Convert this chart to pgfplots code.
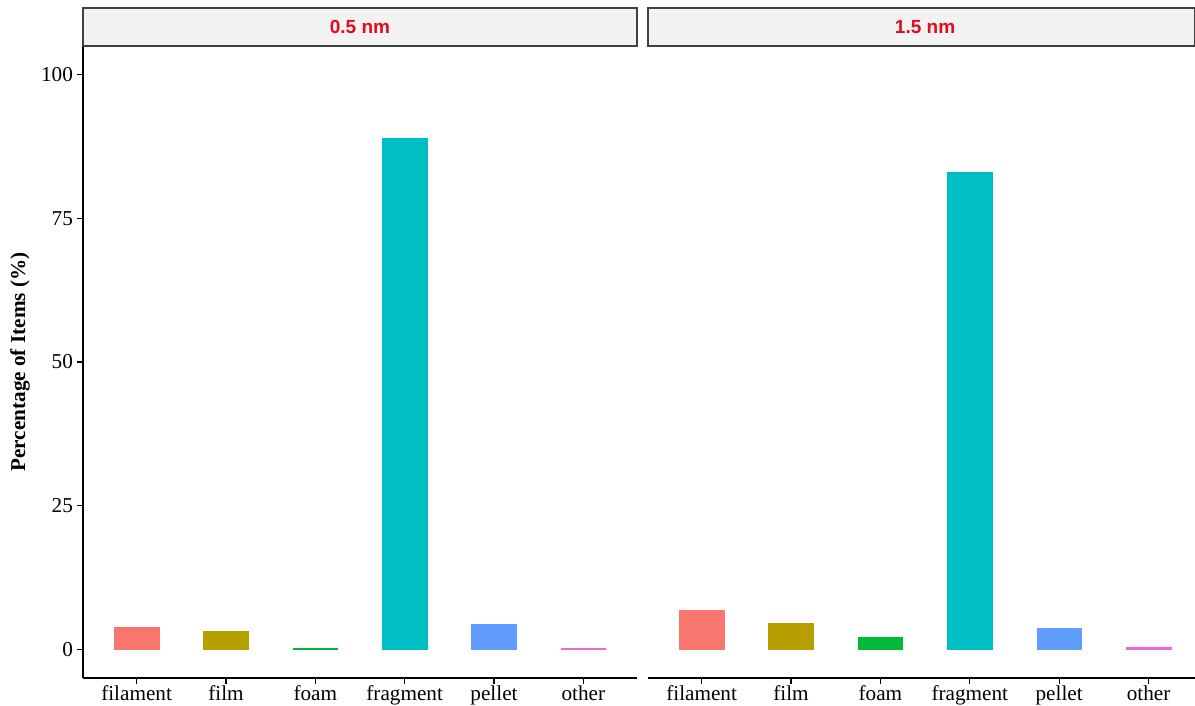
\documentclass[border=0pt]{standalone}
\usepackage{fontspec}
\setmainfont{Liberation Serif}
\newfontfamily\stripfont{Liberation Sans}
\usepackage{pgfplots}
\pgfplotsset{compat=1.18}
\definecolor{cA}{HTML}{F8766D}
\definecolor{cB}{HTML}{B79F00}
\definecolor{cC}{HTML}{00BA38}
\definecolor{cD}{HTML}{00BFC4}
\definecolor{cE}{HTML}{619CFF}
\definecolor{cF}{HTML}{F564E3}
\definecolor{stripgray}{HTML}{F2F2F2}
\definecolor{stripred}{RGB}{228,10,30}
\pgfplotsset{
  panel/.style={
    scale only axis, anchor=south west, height=316pt,
    ymin=-5, ymax=105, xmin=0.4,
    xtick={1,2,3,4,5,6},
    xticklabels={filament,film,foam,fragment,pellet,other},
    axis x line*=bottom,
    tick align=outside, major tick length=3pt,
    tick style={black, line width=0.6pt},
    axis line style={black, line width=0.7pt},
    ticklabel style={font=\fontsize{10.6}{12}\selectfont},
    xticklabel style={yshift=2.8pt},
    yticklabel style={xshift=1.5pt},
    /pgf/number format/assume math mode=true,
    clip=false,
  },
  mybar/.style={ybar, bar width=0.5, bar shift=0pt, fill=#1, draw=#1, line width=0.3pt},
}
\begin{document}
\begin{tikzpicture}
\begin{axis}[panel, at={(41.5pt,14pt)}, width=277pt, xmax=6.6,
  axis y line*=left, ytick={0,25,50,75,100},
  ylabel={\textbf{Percentage of Items (\%)}},
  ylabel style={at={(axis description cs:-0.1137,0.5)}, anchor=center, font=\fontsize{10.6}{12}\selectfont}]
\addplot[mybar=cA] coordinates {(1,3.8)};
\addplot[mybar=cB] coordinates {(2,3.1)};
\addplot[mybar=cC] coordinates {(3,0.1)};
\addplot[mybar=cD] coordinates {(4,88.9)};
\addplot[mybar=cE] coordinates {(5,4.4)};
\addplot[mybar=cF] coordinates {(6,0.1)};
\draw[fill=stripgray, draw=black!75, line width=0.6pt] (rel axis cs:0,1) rectangle ([yshift=19pt]rel axis cs:1,1);
\node[font=\stripfont\bfseries\fontsize{9.5}{11}\selectfont, text=stripred] at ([yshift=9.5pt]axis cs:3.5,105) {0.5 nm};
\end{axis}
\begin{axis}[panel, at={(324pt,14pt)}, width=273.5pt, xmax=6.52,
  axis y line=none, ytick=\empty]
\addplot[mybar=cA] coordinates {(1,6.8)};
\addplot[mybar=cB] coordinates {(2,4.5)};
\addplot[mybar=cC] coordinates {(3,2.0)};
\addplot[mybar=cD] coordinates {(4,83.0)};
\addplot[mybar=cE] coordinates {(5,3.7)};
\addplot[mybar=cF] coordinates {(6,0.3)};
\draw[fill=stripgray, draw=black!75, line width=0.6pt] (rel axis cs:0,1) rectangle ([yshift=19pt]rel axis cs:1,1);
\node[font=\stripfont\bfseries\fontsize{9.5}{11}\selectfont, text=stripred] at ([yshift=9.5pt]axis cs:3.5,105) {1.5 nm};
\end{axis}
\pgfresetboundingbox
\path (0,0) rectangle (597.5pt,353pt);
\end{tikzpicture}
\end{document}
